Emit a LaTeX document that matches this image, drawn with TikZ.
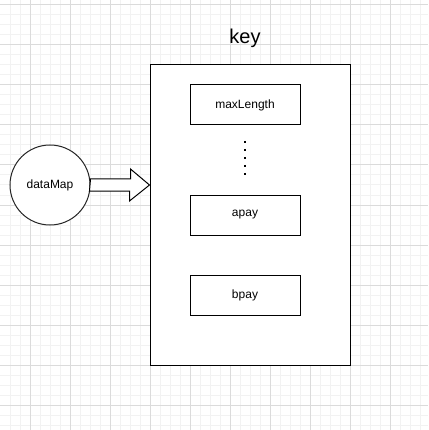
\documentclass[tikz,border=0pt]{standalone}
\usepackage{fontspec}
\setmainfont{Liberation Sans}
\usetikzlibrary{calc}
\begin{document}
\begin{tikzpicture}[x=1pt,y=-1pt,
  minorgrid/.style={draw=black!5,line width=1pt},
  majorgrid/.style={draw=black!14,line width=1pt},
  box/.style={draw=black,line width=1pt,fill=white,minimum width=110pt,minimum height=40pt,inner sep=0pt,font=\fontsize{12}{14}\selectfont},
  container/.style={draw=black,line width=1pt,fill=white,minimum width=200pt,minimum height=300pt,inner sep=0pt},
  circ/.style={draw=black!85,line width=1pt,fill=white,circle,minimum size=80pt,inner sep=0pt,font=\fontsize{12}{14}\selectfont},
  bigarrow/.style={draw=black,line width=1pt,fill=white,line join=miter},
  dotline/.style={draw=black,line width=2pt,dash pattern=on 2pt off 6pt}]
\useasboundingbox (0,0) rectangle (428,430);
\fill[white] (0,0) rectangle (428,430);
% minor grid
\foreach \x in {10,20,...,420} \draw[minorgrid] (\x,0) -- (\x,430);
\foreach \y in {5,15,...,425} \draw[minorgrid] (0,\y) -- (428,\y);
% major grid
\foreach \x in {30,70,...,410} \draw[majorgrid] (\x,0) -- (\x,430);
\foreach \y in {5,45,...,405} \draw[majorgrid] (0,\y) -- (428,\y);
% container
\node[container] (key) at (250,215) {};
\node[font=\fontsize{20}{24}\selectfont] (keylabel) at (245,38) {key};
\node[box] (maxlen) at (245,105) {maxLength};
\node[box] (apay) at (245,215) {apay};
\node[box] (bpay) at (245,295) {bpay};
\coordinate (dtop) at (244.5,141);
\coordinate (dbot) at (244.5,176);
\draw[dotline] (dtop) -- (dbot);
% circle
\node[circ] (dm) at (50,185) {dataMap};
% block arrow from circle to container
\path[bigarrow] (dm.east) ++(0,-6) -- ++(40,0) -- ++(0,-10) -- (key.west |- dm.east) -- ++(-20,16) -- ++(0,-10) -- ++(-40,0) -- cycle;
\end{tikzpicture}
\end{document}
